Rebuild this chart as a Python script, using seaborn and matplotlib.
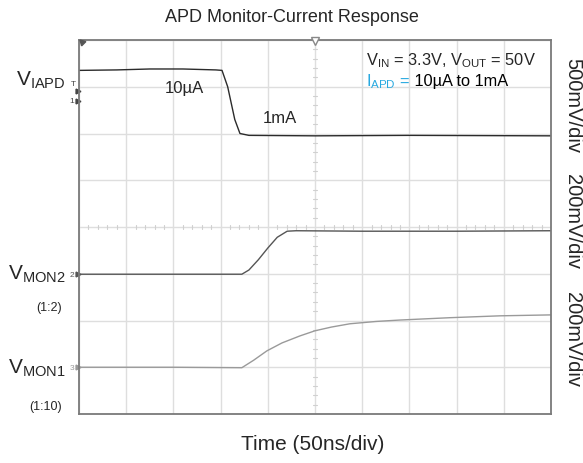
import numpy as np
import pandas as pd
import matplotlib
matplotlib.use("Agg")
import matplotlib.pyplot as plt
import seaborn as sns

# ---- data (x and y in scope divisions) ----
iapd_t = [0.0, 0.8, 1.5, 2.2, 2.9, 3.03, 3.15, 3.3, 3.41, 3.6, 5.0, 7.0, 10.0]
iapd_v = [7.35, 7.36, 7.38, 7.38, 7.36, 7.35, 7.0, 6.3, 6.0, 5.96, 5.95, 5.96, 5.95]

mon2_t = [0.0, 2.0, 3.45, 3.6, 3.8, 4.0, 4.2, 4.41, 4.6, 6.0, 8.0, 10.0]
mon2_v = [2.99, 2.99, 2.99, 3.08, 3.3, 3.55, 3.78, 3.91, 3.92, 3.91, 3.91, 3.92]

mon1_t = [0.0, 2.0, 3.45, 3.7, 3.98, 4.3, 4.68, 5.0, 5.35, 5.74, 6.3, 6.8, 7.86, 8.92, 10.0]
mon1_v = [1.0, 1.0, 0.99, 1.15, 1.35, 1.52, 1.67, 1.78, 1.86, 1.93, 1.98, 2.01, 2.06, 2.1, 2.12]

FONT = ["Liberation Sans", "DejaVu Sans"]
sns.set_theme(style="white")
plt.rcParams["font.family"] = FONT
plt.rcParams["mathtext.fontset"] = "custom"
plt.rcParams["mathtext.rm"] = "Liberation Sans"

fig = plt.figure(figsize=(5.83, 4.64), dpi=100)
ax = fig.add_axes([79/583, 49/464, 472/583, 374/464])

df = pd.concat([
    pd.DataFrame({"t": iapd_t, "v": iapd_v, "ch": "IAPD"}),
    pd.DataFrame({"t": mon2_t, "v": mon2_v, "ch": "MON2"}),
    pd.DataFrame({"t": mon1_t, "v": mon1_v, "ch": "MON1"}),
])
palette = {"IAPD": "#2b2b2b", "MON2": "#555555", "MON1": "#9a9a9a"}
sns.lineplot(data=df, x="t", y="v", hue="ch", palette=palette, ax=ax,
             legend=False, linewidth=1.0, sort=False, estimator=None)

ax.set_xlim(0, 10)
ax.set_ylim(0, 8)
ax.set_xticks(np.arange(0, 11, 1))
ax.set_yticks(np.arange(0, 9, 1))
ax.grid(True, color="#dedede", linewidth=1.0)
ax.set_axisbelow(True)
ax.tick_params(length=0, labelbottom=False, labelleft=False)
ax.set_xlabel("")
ax.set_ylabel("")
for s in ax.spines.values():
    s.set_color("#7a7a7a")
    s.set_linewidth(1.3)

# minor ticks on center cross
for i in range(1, 40):
    if i % 5:
        y = i * 0.2
        ax.plot([4.95, 5.05], [y, y], color="#d0d0d0", lw=0.8, zorder=1)
for i in range(1, 50):
    if i % 5:
        x = i * 0.2
        ax.plot([x, x], [3.95, 4.05], color="#d0d0d0", lw=0.8, zorder=1)

# top trigger position marker
ax.plot([5], [7.97], marker="v", markersize=6, markerfacecolor="white",
        markeredgecolor="#888888", clip_on=False, zorder=5)
ax.plot([0.06], [7.95], marker=(3, 0, 45), markersize=5, color="#555555",
        clip_on=False, zorder=5)

# channel markers on the left
ax.text(-0.07, 7.08, "T", fontsize=6, color="#444444", ha="right", va="center", clip_on=False)
ax.plot([-0.02], [6.9], marker=">", markersize=3.5, color="#444444", clip_on=False)
ax.text(-0.1, 6.7, "1", fontsize=6, color="#444444", ha="right", va="center", clip_on=False)
ax.plot([-0.02], [6.7], marker=">", markersize=3.5, color="#444444", clip_on=False)
ax.text(-0.1, 2.99, "2", fontsize=6, color="#555555", ha="right", va="center", clip_on=False)
ax.plot([-0.02], [2.99], marker=">", markersize=3.5, color="#555555", clip_on=False)
ax.text(-0.1, 1.0, "3", fontsize=6, color="#999999", ha="right", va="center", clip_on=False)
ax.plot([-0.02], [1.0], marker=">", markersize=3.5, color="#999999", clip_on=False)

# text annotations
fig.text(0.5, 1 - 17/464, "APD Monitor-Current Response", ha="center", va="center", fontsize=13)
fig.text(313/583, 1 - 445/464, "Time (50ns/div)", ha="center", va="center", fontsize=15)

ax.text(1.82, 6.98, "10µA", fontsize=12, ha="left", va="center")
ax.text(3.9, 6.35, "1mA", fontsize=12, ha="left", va="center")

ax.text(6.08, 7.57, r"V$_{\mathregular{IN}}$ = 3.3V, V$_{\mathregular{OUT}}$ = 50V",
        fontsize=11.8, ha="left", va="center")
t1 = ax.text(6.08, 7.14, r"I$_{\mathregular{APD}}$ =", fontsize=11.8, color="#29a9e0",
             ha="left", va="center")
ax.annotate(" 10µA to 1mA", xycoords=t1, xy=(1, 0.5), va="center", ha="left",
            fontsize=11.8, color="black")

fig.text(66/583, 1 - 80/464, r"V$_{\mathregular{IAPD}}$", fontsize=15, ha="right", va="center")
fig.text(66/583, 1 - 274/464, r"V$_{\mathregular{MON2}}$", fontsize=15, ha="right", va="center")
fig.text(62/583, 1 - 308/464, "(1:2)", fontsize=9, ha="right", va="center")
fig.text(66/583, 1 - 368/464, r"V$_{\mathregular{MON1}}$", fontsize=15, ha="right", va="center")
fig.text(62/583, 1 - 407/464, "(1:10)", fontsize=9, ha="right", va="center")

fig.text(573/583, 1 - 106/464, "500mV/div", rotation=-90, fontsize=14.5, ha="center", va="center")
fig.text(573/583, 1 - 222/464, "200mV/div", rotation=-90, fontsize=14.5, ha="center", va="center")
fig.text(573/583, 1 - 339/464, "200mV/div", rotation=-90, fontsize=14.5, ha="center", va="center")

fig.savefig("out.png", dpi=100)
